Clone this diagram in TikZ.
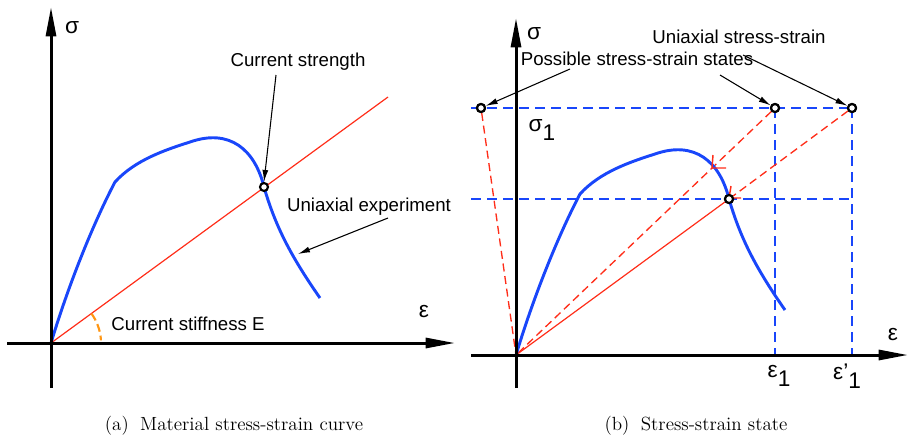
\documentclass[tikz,border=0pt]{standalone}
\usepackage{fontspec}
\newfontfamily\lab{Liberation Sans}
\usetikzlibrary{arrows.meta}
\definecolor{cblue}{RGB}{25,70,250}
\definecolor{cred}{RGB}{255,45,25}
\definecolor{corange}{RGB}{255,150,20}
\begin{document}
\begin{tikzpicture}[x=0.75pt,y=-0.75pt,
  lbl/.style={font=\lab\fontsize{14}{16}\selectfont, inner sep=0pt},
  glbl/.style={font=\lab\fontsize{17}{19}\selectfont, inner sep=0pt},
  captext/.style={font=\fontsize{14.3}{16}\selectfont, inner sep=0pt},
  axis/.style={line width=2.25pt, -{Triangle[length=22pt,width=7.5pt]}},
  curve/.style={cblue, line width=2.2pt, line join=round},
  rline/.style={cred, line width=0.9pt},
  rdash/.style={cred, line width=1pt, dash pattern=on 6pt off 3.5pt},
  bdash/.style={cblue, line width=1.1pt, dash pattern=on 7.5pt off 4.5pt},
  callout/.style={black, line width=0.8pt, -{Latex[length=9pt,width=4.5pt]}},
  dot/.style={circle, draw=black, fill=white, line width=1.6pt, inner sep=0pt, minimum size=6pt},
  vhead/.style={cred, line width=1.1pt, line join=miter}]
\useasboundingbox (0,0) rectangle (909,436);

% material curve, drawn relative to its origin
\def\matcurve{(0,0) .. controls (19,-63) and (44,-123) .. (64,-161)
  .. controls (84,-183) and (114,-193) .. (139,-201)
  .. controls (179,-215) and (204,-193) .. (213,-156)
  .. controls (224,-118) and (239,-88) .. (269,-45)}

% ---------------- panel (a) ----------------
\coordinate (Oa) at (51,343);
\coordinate (Ra) at (388,97);
\draw[rline] (Oa) -- (Ra);
\draw[corange, line width=1.6pt, dash pattern=on 6pt off 3pt]
  plot[domain=-36:-3, samples=30] ({51+50*cos(\x)},{343+50*sin(\x)});
\begin{scope}[shift={(Oa)}]
\draw[curve] \matcurve;
\end{scope}
\node[dot] (Sa) at (264,187) {};
\draw[axis] (51,388) -- (51,7);
\draw[axis] (7,343) -- (455,343);
\node[glbl] (siga) at (72,28) {σ};
\node[glbl] (epsa) at (424,312) {ε};
\node[lbl] (cs) at (298,62) {Current strength};
\node[lbl] (ue) at (369,207) {Uniaxial experiment};
\node[lbl] (stiff) at (188,324) {Current stiffness E};
\coordinate (csA) at (276,75);
\coordinate (ueA) at (388,218);
\coordinate (ueB) at (298,254);
\draw[callout] (csA) -- (Sa.north);
\draw[callout] (ueA) -- (ueB);

% ---------------- panel (b) ----------------
\coordinate (Ob) at (516,355);
\draw[bdash] (471,108) -- (852,108);
\draw[bdash] (471,199) -- (852,199);
\draw[bdash] (775,108) -- (775,355);
\draw[bdash] (852,108) -- (852,355);
\node[dot] (P1) at (481,108) {};
\node[dot] (P2) at (775,108) {};
\node[dot] (P3) at (852,108) {};
\node[dot] (Sb) at (729,199) {};
\draw[rdash] (P1) -- (Ob);
\draw[rdash] (P2) -- (Ob);
\draw[rdash] (P3) -- (Sb);
\draw[rline] (Ob) -- (Sb);
\begin{scope}[shift={(Ob)}]
\draw[curve] \matcurve;
\end{scope}
\draw[vhead] (713,155) -- (712,168) -- (726,168);
\draw[vhead] (731,186) -- (729,198) -- (741,198);
\node[dot] at (P1) {};
\node[dot] at (P2) {};
\node[dot] at (P3) {};
\node[dot] at (Sb) {};
\draw[axis] (516,388) -- (516,18);
\draw[axis] (471,355) -- (908,355);
\node[glbl] (sigb) at (534,34) {σ};
\node[glbl] (epsb) at (893,335) {ε};
\node[glbl] (sig1) at (542,130) {σ\raisebox{-0.4em}{1}};
\node[glbl] (eps1) at (779,376) {ε\raisebox{-0.4em}{1}};
\node[glbl] (eps1p) at (847,376) {ε’\raisebox{-0.4em}{1}};
\node[lbl] (us) at (739,37) {Uniaxial stress-strain};
\node[lbl] (ps) at (637,59) {Possible stress-strain states};
\coordinate (psA) at (570,69);
\coordinate (psB) at (720,75);
\coordinate (usA) at (743,55);
\draw[callout] (psA) -- (P1);
\draw[callout] (psB) -- (P2);
\draw[callout] (usA) -- (P3);

% ---------------- captions ----------------
\node[captext] (capa) at (234,426) {(a)\hspace{0.6em}Material stress-strain curve};
\node[captext] (capb) at (696,426) {(b)\hspace{0.6em}Stress-strain state};
\end{tikzpicture}
\end{document}
